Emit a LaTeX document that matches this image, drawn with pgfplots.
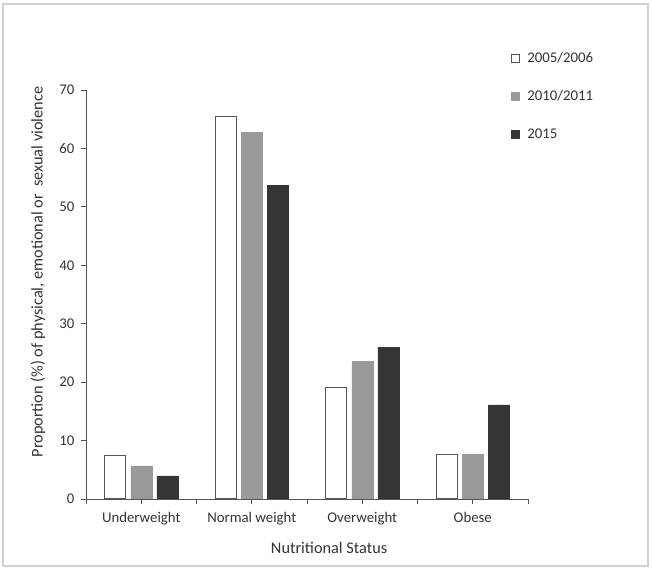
\documentclass[border=0pt]{standalone}
\usepackage{pgfplots}
\pgfplotsset{compat=1.18}
\usepackage{fontspec}
\setmainfont{Carlito}
\definecolor{barwhite}{HTML}{FFFFFF}
\definecolor{bargray}{HTML}{999999}
\definecolor{bardark}{HTML}{353535}
\definecolor{axisc}{HTML}{555555}
\begin{document}
\begin{tikzpicture}[x=1pt,y=1pt]
\useasboundingbox (0,0) rectangle (652,569);
\draw[gray!35, line width=1.5pt] (3,3) rectangle (648,565);
\begin{axis}[
  at={(86pt,70pt)}, anchor=south west,
  scale only axis, width=442pt, height=409pt,
  xmin=-0.5, xmax=3.5, ymin=0, ymax=70,
  axis x line*=bottom, axis y line*=left,
  axis line style={axisc, line width=0.8pt},
  ytick={0,10,...,70},
  xtick={0,1,2,3},
  xticklabels={Underweight, Normal weight, Overweight, Obese},
  extra x ticks={-0.5,0.5,1.5,2.5,3.5},
  extra x tick labels={},
  tick align=outside, major tick length=5pt,
  tick style={axisc, line width=0.8pt},
  ticklabel style={font=\fontsize{14.8}{17}\selectfont, text=black!80},
  /pgf/number format/assume math mode=true,
  xticklabel style={yshift=-5pt},
  yticklabel style={xshift=-3pt},
  xlabel={Nutritional Status},
  ylabel={Proportion (\%) of physical, emotional or\ \ sexual violence},
  label style={font=\fontsize{16.3}{19}\selectfont, text=black!80},
  xlabel style={at={(axis description cs:0.55,-0.1198)}, anchor=center},
  ylabel style={at={(axis description cs:-0.1086,0.555)}, anchor=center},
  ybar, bar width=21pt,
  legend style={at={(axis description cs:0.962,1.098)}, anchor=north west, draw=none, fill=none,
    font=\fontsize{14.8}{17}\selectfont, text=black!80, row sep=22.5pt, inner sep=0pt},
  legend cell align=left,
  legend image code/.code={\draw[#1, line width=0.8pt] (2pt,-4pt) rectangle (10pt,4pt); \path (15pt,0pt);},
]
\addplot[bar shift=-26pt, fill=white, draw=axisc, line width=1pt] coordinates {(0,7.5) (1,65.5) (2,19.1) (3,7.7)};
\addplot[bar shift=0pt, fill=bargray, draw=bargray, line width=0.5pt] coordinates {(0,5.65) (1,62.8) (2,23.5) (3,7.7)};
\addplot[bar shift=26pt, fill=bardark, draw=bardark, line width=0.5pt] coordinates {(0,3.95) (1,53.7) (2,26.0) (3,16.1)};
\legend{2005/2006, 2010/2011, 2015}
\end{axis}
\end{tikzpicture}
\end{document}
